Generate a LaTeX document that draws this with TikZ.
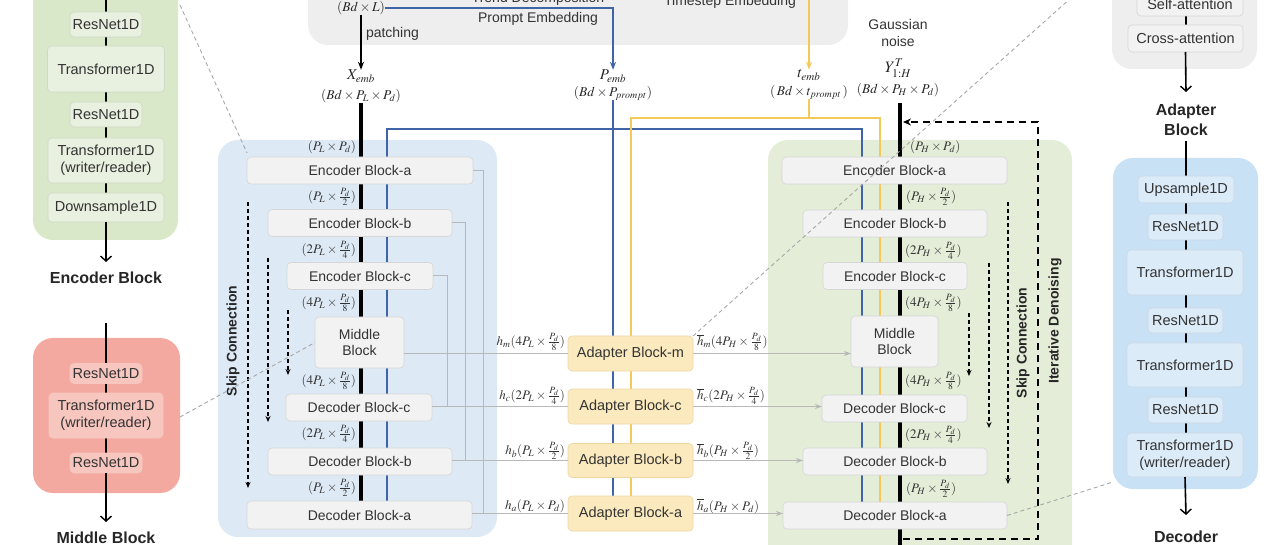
\documentclass[tikz,border=0pt]{standalone}
\usepackage{mathptmx}
\usepackage[no-math]{fontspec}
\setmainfont{Liberation Sans}
\usetikzlibrary{arrows.meta,calc}
\definecolor{txt}{HTML}{333333}
\definecolor{blkfill}{HTML}{F2F2F2}
\definecolor{blkline}{HTML}{D6D6D6}
\definecolor{pblue}{HTML}{DDE9F5}
\definecolor{pgreen}{HTML}{E3EDD8}
\definecolor{dgreen}{HTML}{D8E8C8}
\definecolor{dgreenblk}{HTML}{E8F0DF}
\definecolor{dred}{HTML}{F4A9A0}
\definecolor{dredblk}{HTML}{F6C6BF}
\definecolor{dblue}{HTML}{C9E1F5}
\definecolor{dblueblk}{HTML}{DCEBF8}
\definecolor{topgray}{HTML}{EEEEEE}
\definecolor{adfill}{HTML}{FCEABF}
\definecolor{adline}{HTML}{EBD6A2}
\definecolor{lblue}{HTML}{3F65A8}
\definecolor{lyellow}{HTML}{F5C85A}
\definecolor{conn}{HTML}{B8B8B8}
\definecolor{leader}{HTML}{A8A8A8}
\begin{document}
\begin{tikzpicture}[x=1pt,y=-1pt,
  every node/.style={inner sep=0pt, outer sep=0pt, text=txt},
  blk/.style={draw=blkline, fill=blkfill, rounded corners=4pt, line width=0.6pt,
    font=\fontsize{14}{16}\selectfont, align=center},
  dblk/.style={blk, font=\fontsize{14.5}{17}\selectfont},
  gblk/.style={dblk, fill=dgreenblk, draw=dgreenblk!90!black},
  rblk/.style={dblk, fill=dredblk, draw=dredblk},
  bblk/.style={dblk, fill=dblueblk, draw=dblueblk!92!black},
  ablk/.style={blk, fill=adfill, draw=adline, font=\fontsize{14.5}{16}\selectfont},
  panel/.style={rounded corners=20pt},
  ttl/.style={font=\fontsize{16}{20}\selectfont\bfseries, text=black!85, align=center},
  lbl/.style={font=\fontsize{14}{17}\selectfont, align=center},
  mth/.style={font=\fontsize{13.5}{15}\selectfont, text=black!85},
  dim/.style={font=\fontsize{13}{14}\selectfont, text=black!80},
  hl/.style={font=\fontsize{13}{14}\selectfont, text=black!80},
  rot/.style={font=\fontsize{14}{16}\selectfont\bfseries, text=black!85, rotate=90},
  thk/.style={line width=3.6pt, black},
  dline/.style={line width=1.6pt, black},
  darr/.style={dline, -{Straight Barb[length=5pt,width=11pt,line width=1.4pt]}},
  marr/.style={line width=1.4pt, -{Stealth[length=8pt,width=6pt]}},
  bl/.style={line width=1.6pt, lblue},
  yl/.style={line width=1.6pt, lyellow},
  cn/.style={line width=1pt, conn},
  cnarr/.style={cn, -{Stealth[length=7pt,width=5pt]}},
  skip/.style={line width=1.3pt, black, dash pattern=on 4pt off 3pt, -{Stealth[length=6pt,width=5pt]}},
  iter/.style={line width=2pt, black, dash pattern=on 7pt off 5pt, -{Stealth[length=8pt,width=7pt]}},
  lead/.style={line width=0.9pt, leader, dash pattern=on 4pt off 3pt}
]
\useasboundingbox (0,0) rectangle (1280,545);

% ---------- panels ----------
\fill[topgray, panel] (308,-30) rectangle (848,45);
\fill[pblue, panel] (218,140) rectangle (497,537);
\fill[pgreen, panel] (768,140) rectangle (1072,570);
\fill[dgreen, panel] (33,-30) rectangle (178,240);
\fill[dred, panel] (33,338) rectangle (180,493);
\fill[topgray, panel] (1112,-30) rectangle (1257,69);
\fill[dblue, panel] (1113,158) rectangle (1258,489);

% ---------- coordinates ----------
\coordinate (eTop) at (106,-5);
\coordinate (eOut) at (106,262);
\coordinate (rTop) at (106,323);
\coordinate (rOut) at (106,522);
\coordinate (aOut) at (1186,92);
\coordinate (dTop) at (1186,141);
\coordinate (dOut) at (1186,515);
\coordinate (tTop) at (809,-5);
\coordinate (yTop) at (900,103);
\coordinate (yBot) at (900,548);
\coordinate (bL) at (387,129);
\coordinate (bR) at (862,129);
\coordinate (yL) at (631,118);
\coordinate (yR) at (880,118);
\coordinate (tJ) at (809,118);
\coordinate (iA) at (903,539);
\coordinate (iB) at (1038,539);
\coordinate (iC) at (1038,122);
\coordinate (iD) at (903,122);
\coordinate (cA) at (483,0);
\coordinate (cB) at (465,0);
\coordinate (cC) at (447,0);

% ---------- detail panels: lines ----------
\draw[dline] (eTop) -- (106,200);
\draw[dline] (rTop) -- (106,470);
\draw[dline] (1186,-5) -- (1186,40);
\draw[dline] (dTop) -- (1186,460);

% ---------- encoder detail ----------
\node[gblk, minimum width=72, minimum height=25] (e1) at (106,24.5) {ResNet1D};
\node[gblk, minimum width=117, minimum height=46] (e2) at (106,69) {Transformer1D};
\node[gblk, minimum width=72, minimum height=25] (e3) at (106,114.5) {ResNet1D};
\node[gblk, minimum width=116, minimum height=45] (e4) at (106,160.5) {Transformer1D\\(writer/reader)};
\node[gblk, minimum width=116, minimum height=29] (e5) at (106,207.5) {Downsample1D};
\draw[darr] (e5.south) -- (eOut);
\node[ttl] (eT) at (106,278) {Encoder Block};

% ---------- middle detail ----------
\node[rblk, minimum width=72, minimum height=20] (r1) at (106,373.5) {ResNet1D};
\node[rblk, minimum width=114, minimum height=45] (r2) at (106,415.5) {Transformer1D\\(writer/reader)};
\node[rblk, minimum width=72, minimum height=20] (r3) at (106,463) {ResNet1D};
\draw[darr] (r3.south) -- (rOut);
\node[ttl] (rT) at (106,538) {Middle Block};

% ---------- adapter detail ----------
\node[dblk, minimum width=106, minimum height=24] (a1) at (1190,4) {Self-attention};
\node[dblk, minimum width=115, minimum height=27] (a2) at (1185.5,38.5) {Cross-attention};
\draw[darr] (a2.south) -- (aOut);
\node[ttl] (aT) at (1186,120) {Adapter\\Block};

% ---------- decoder detail ----------
\node[bblk, minimum width=96, minimum height=27] (u1) at (1186,189.5) {Upsample1D};
\node[bblk, minimum width=75, minimum height=26] (u2) at (1185.5,227) {ResNet1D};
\node[bblk, minimum width=116, minimum height=45] (u3) at (1185,272.5) {Transformer1D};
\node[bblk, minimum width=75, minimum height=25] (u4) at (1185.5,320.5) {ResNet1D};
\node[bblk, minimum width=116, minimum height=44] (u5) at (1185,365) {Transformer1D};
\node[bblk, minimum width=75, minimum height=26] (u6) at (1185.5,410) {ResNet1D};
\node[bblk, minimum width=116, minimum height=44] (u7) at (1185,455) {Transformer1D\\(writer/reader)};
\draw[darr] (u7.south) -- (dOut);
\node[ttl] (dT) at (1186,537) {Decoder};

% ---------- top box texts ----------
\node[mth] (bdl) at (361,8) {$(Bd\times L)$};
\node[lbl] (trend) at (538,-1) {Trend Decomposition};
\node[lbl] (prompt) at (538,19) {Prompt Embedding};
\node[lbl] (tstep) at (730,2) {Timestep Embedding};
\node[lbl, anchor=west] (patch) at (366,34) {patching};

% ---------- embeddings ----------
\node[mth, font=\fontsize{15}{17}\selectfont] (xemb) at (361,76) {$X_{emb}$};
\node[mth] (xdim) at (361,96) {$(Bd\times P_L\times P_d)$};
\node[mth, font=\fontsize{15}{17}\selectfont] (pemb) at (613,76) {$P_{emb}$};
\node[mth] (pdim) at (613,93) {$(Bd\times P_{prompt})$};
\node[mth, font=\fontsize{15}{17}\selectfont] (temb) at (809,75) {$t_{emb}$};
\node[mth] (tdim) at (809,92) {$(\,Bd\times t_{prompt}\,)$};
\node[lbl] (gauss) at (898,33) {Gaussian\\noise};
\node[mth, font=\fontsize{16}{18}\selectfont] (yemb) at (898,68) {$Y^{T}_{1:H}$};
\node[mth] (ydim) at (898,90) {$(Bd\times P_H\times P_d)$};

\draw[marr, black] (bdl.south) -- (xemb.north);
\draw[marr, lblue] (bdl.east) -- (pemb.north |- bdl.east) -- (pemb.north);
\draw[marr, lyellow] (tTop) -- (temb.north);

% coloured lines
\draw[bl] (pdim.south) -- (613,496);
\draw[bl] (387,501) -- (bL) -- (bR) -- (862,502);
\draw[yl] (tdim.south) -- (tJ);
\draw[yl] (631,496) -- (yL) -- (yR) -- (880,502);
\draw[thk] (xdim.south) -- (361,501);
\draw[thk] (yTop) -- (yBot);

% left blocks
\node[blk, minimum width=226, minimum height=27] (lEncA) at (360,170.5) {Encoder Block-a};
\node[blk, minimum width=184, minimum height=27] (lEncB) at (360,223) {Encoder Block-b};
\node[blk, minimum width=146, minimum height=27] (lEncC) at (360,276) {Encoder Block-c};
\node[blk, minimum width=89, minimum height=51] (lMid) at (359.5,342.5) {Middle\\Block};
\node[blk, minimum width=146, minimum height=27] (lDecC) at (359,407.5) {Decoder Block-c};
\node[blk, minimum width=184, minimum height=27] (lDecB) at (360,461.5) {Decoder Block-b};
\node[blk, minimum width=225, minimum height=28] (lDecA) at (359.5,515) {Decoder Block-a};

% right blocks
\node[blk, minimum width=225, minimum height=27] (rEncA) at (894.5,170.5) {Encoder Block-a};
\node[blk, minimum width=184, minimum height=27] (rEncB) at (895,223.5) {Encoder Block-b};
\node[blk, minimum width=144, minimum height=27] (rEncC) at (895,276) {Encoder Block-c};
\node[blk, minimum width=87, minimum height=51] (rMid) at (894.5,341.5) {Middle\\Block};
\node[blk, minimum width=145, minimum height=27] (rDecC) at (894.5,408.5) {Decoder Block-c};
\node[blk, minimum width=184, minimum height=27] (rDecB) at (895,461.5) {Decoder Block-b};
\node[blk, minimum width=224, minimum height=27] (rDecA) at (895,515.5) {Decoder Block-a};

% adapters
\node[ablk, minimum width=125, minimum height=35] (adM) at (630.5,353.5) {Adapter Block-m};
\node[ablk, minimum width=125, minimum height=35] (adC) at (630.5,406.5) {Adapter Block-c};
\node[ablk, minimum width=125, minimum height=34] (adB) at (630.5,460.5) {Adapter Block-b};
\node[ablk, minimum width=125, minimum height=35] (adA) at (630.5,513.5) {Adapter Block-a};

% gray connectors
\draw[cn] (lEncA.east) -- (lEncA.east -| cA) |- (adA.west);
\draw[cn] (lEncB.east) -- (lEncB.east -| cB) |- (adB.west);
\draw[cn] (lEncC.east) -- (lEncC.east -| cC) |- (adC.west);
\draw[cn] (lDecA.east |- adA.west) -- (adA.west);
\draw[cn] (lDecB.east |- adB.west) -- (adB.west);
\draw[cn] (lDecC.east |- adC.west) -- (adC.west);
\draw[cn] (lMid.east |- adM.west) -- (adM.west);
\draw[cnarr] (adM.east) -- (rMid.west |- adM.east);
\draw[cnarr] (adC.east) -- (rDecC.west |- adC.east);
\draw[cnarr] (adB.east) -- (rDecB.west |- adB.east);
\draw[cnarr] (adA.east) -- (rDecA.west |- adA.east);

% dimension labels left
\node[dim, anchor=east] (ld1) at (356,147) {$(P_L\times P_d)$};
\node[dim, anchor=east] (ld2) at (356,197) {$(P_L\times\frac{P_d}{2})$};
\node[dim, anchor=east] (ld3) at (356,250) {$(2P_L\times\frac{P_d}{4})$};
\node[dim, anchor=east] (ld4) at (356,303) {$(4P_L\times\frac{P_d}{8})$};
\node[dim, anchor=east] (ld5) at (356,381) {$(4P_L\times\frac{P_d}{8})$};
\node[dim, anchor=east] (ld6) at (356,434) {$(2P_L\times\frac{P_d}{4})$};
\node[dim, anchor=east] (ld7) at (356,488) {$(P_L\times\frac{P_d}{2})$};
% dimension labels right
\node[dim, anchor=west] (rd1) at (910,147) {$(P_H\times P_d)$};
\node[dim, anchor=west] (rd2) at (906,197) {$(P_H\times\frac{P_d}{2})$};
\node[dim, anchor=west] (rd3) at (905,251) {$(2P_H\times\frac{P_d}{4})$};
\node[dim, anchor=west] (rd4) at (905,303) {$(4P_H\times\frac{P_d}{8})$};
\node[dim, anchor=west] (rd5) at (905,381) {$(4P_H\times\frac{P_d}{8})$};
\node[dim, anchor=west] (rd6) at (905,435) {$(2P_H\times\frac{P_d}{4})$};
\node[dim, anchor=west] (rd7) at (906,489) {$(P_H\times\frac{P_d}{2})$};

% adapter labels
\node[hl, anchor=east] (hm) at (565,342) {$h_m(4P_L\times\frac{P_d}{8})$};
\node[hl, anchor=east] (hc) at (565,396) {$h_c(2P_L\times\frac{P_d}{4})$};
\node[hl, anchor=east] (hb) at (565,451) {$h_b(P_L\times\frac{P_d}{2})$};
\node[hl, anchor=east] (ha) at (565,506) {$h_a(P_L\times P_d)$};
\node[hl, anchor=west] (hbm) at (697,342) {$\overline{h}_m(4P_H\times\frac{P_d}{8})$};
\node[hl, anchor=west] (hbc) at (697,396) {$\overline{h}_c(2P_H\times\frac{P_d}{4})$};
\node[hl, anchor=west] (hbb) at (697,451) {$\overline{h}_b(P_H\times\frac{P_d}{2})$};
\node[hl, anchor=west] (hba) at (697,506) {$\overline{h}_a(P_H\times P_d)$};

% skip connections
\coordinate (ls1a) at (248,202); \coordinate (ls1b) at (248,488);
\coordinate (ls2a) at (268,258); \coordinate (ls2b) at (268,422);
\coordinate (ls3a) at (288,310); \coordinate (ls3b) at (288,375);
\coordinate (rs1a) at (1008,202); \coordinate (rs1b) at (1008,484);
\coordinate (rs2a) at (989,263); \coordinate (rs2b) at (989,428);
\coordinate (rs3a) at (969,313); \coordinate (rs3b) at (969,376);
\draw[skip] (ls1a) -- (ls1b);
\draw[skip] (ls2a) -- (ls2b);
\draw[skip] (ls3a) -- (ls3b);
\draw[skip] (rs1a) -- (rs1b);
\draw[skip] (rs2a) -- (rs2b);
\draw[skip] (rs3a) -- (rs3b);
\node[rot] (skL) at (233,341) {Skip Connection};
\node[rot] (skR) at (1023,343) {Skip Connection};
\node[rot] (itR) at (1055,321) {Iterative Denoising};

% iterative denoising loop
\draw[iter] (iA) -- (iB) -- (iC) -- (iD);

% leader lines
\coordinate (l1a) at (180,5); \coordinate (l1b) at (247,153);
\coordinate (l2a) at (180,417);
\coordinate (l3b) at (1072,-3);
\coordinate (l4b) at (1113,482);
\draw[lead] (l1a) -- (l1b);
\draw[lead] (l2a) -- (lMid.west);
\draw[lead] (adM.north east) -- (l3b);
\draw[lead] (rDecA.east) -- (l4b);
\end{tikzpicture}
\end{document}
